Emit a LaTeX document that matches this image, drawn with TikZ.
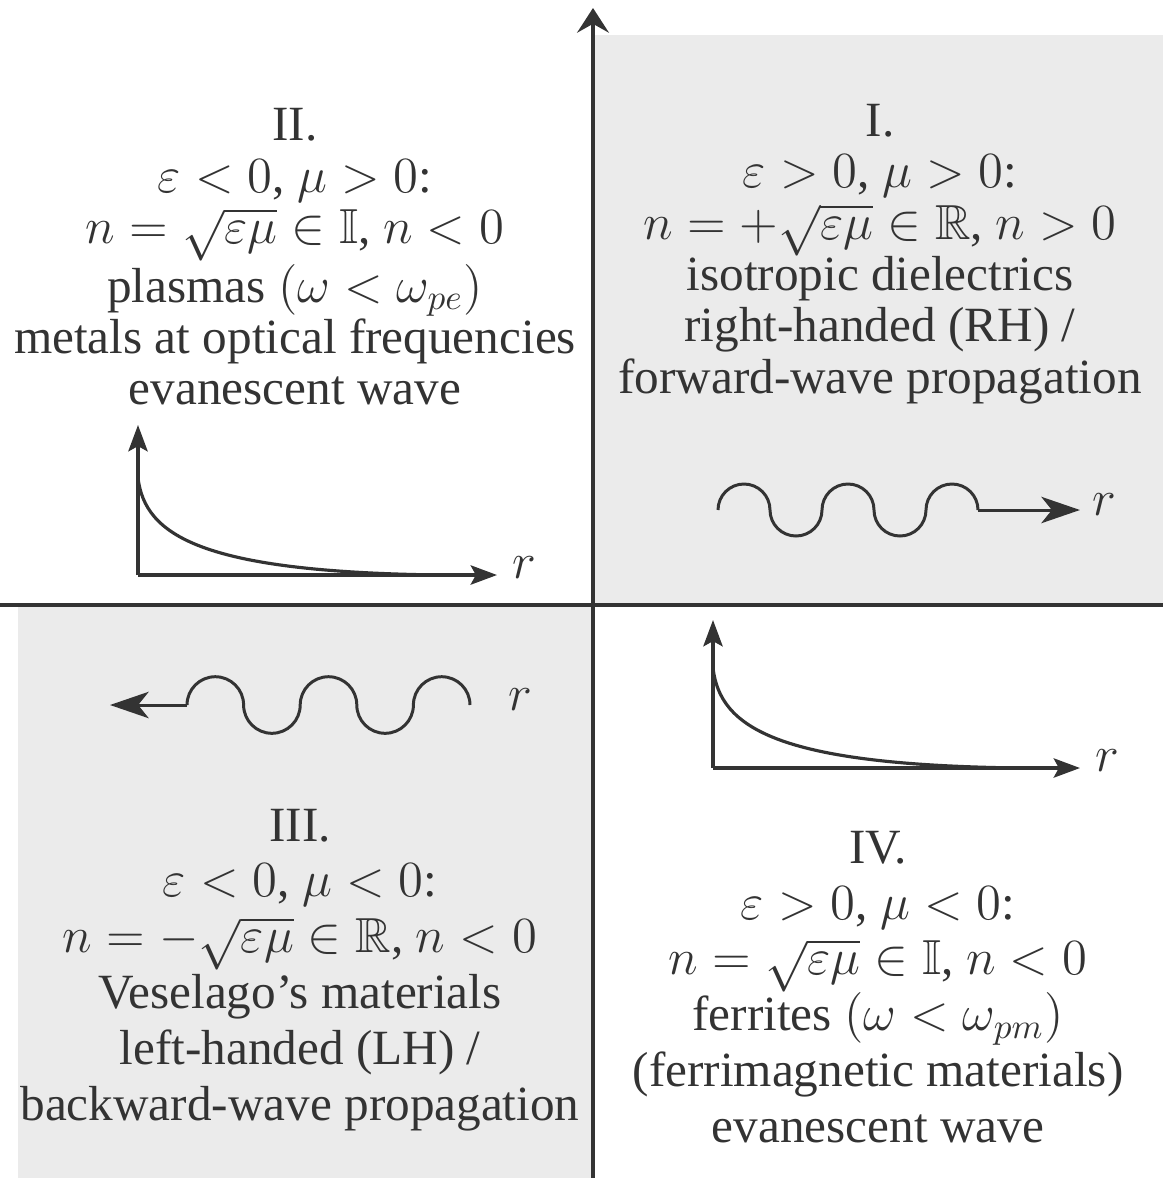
\documentclass[tikz,border=0pt]{standalone}
\usepackage{amsmath,amssymb}
\usepackage{fontspec}
\setmainfont{Liberation Serif}
\usepackage{tikz}
\usetikzlibrary{arrows.meta,positioning,calc}
\definecolor{qdshade}{HTML}{EBEBEB}
\definecolor{qdink}{HTML}{333333}
\tikzset{
qdtext/.style={align=center,text=qdink,inner sep=0pt,font=\fontsize{14}{14.6}\selectfont},
qdtextlow/.style={qdtext,font=\fontsize{14}{15.9}\selectfont},
qdlabel/.style={text=qdink,inner sep=0pt,font=\fontsize{14}{14}\selectfont},
qdaxis/.style={draw=qdink,line width=1.15pt},
qdmainarr/.style={qdaxis,-{Stealth[length=7pt,width=9pt,inset=2.5pt]}},
qdplotarr/.style={draw=qdink,line width=0.9pt,-{Stealth[length=7.5pt,width=5.5pt,inset=1.5pt]}},
qdcurve/.style={draw=qdink,line width=0.9pt},
qdwave/.style={draw=qdink,line width=0.85pt},
qdwavearr/.style={draw=qdink,line width=0.85pt,-{Stealth[length=11pt,width=7.5pt,inset=3pt]}}
}
\begin{document}
\begin{tikzpicture}[x=0.01cm,y=0.01cm]
\useasboundingbox (0,0) rectangle (1163,-1178);
% shaded quadrants
\fill[qdshade] (593,-35) rectangle (1163,-605);
\fill[qdshade] (18,-605) rectangle (593,-1178);
% main axes
\coordinate (hleft) at (0,-605);
\coordinate (hright) at (1163,-605);
\coordinate (vbottom) at (593,-1178);
\coordinate (vtop) at (593,-8);
\draw[qdaxis] (hleft)--(hright);
\draw[qdmainarr] (vbottom)--(vtop);
% quadrant texts
\node[qdtext] (quadII) at (295,-257) {II.\\
  $\varepsilon<0$, $\mu>0$:\\
  $n=\sqrt{\varepsilon\mu}\in\mathbb{I}$, $n<0$\\
  plasmas $(\omega<\omega_{pe})$\\
  metals at optical frequencies\\
  evanescent wave};
\node[qdtext] (quadI) at (880,-254) {I.\\
  $\varepsilon>0$, $\mu>0$:\\
  $n=+\sqrt{\varepsilon\mu}\in\mathbb{R}$, $n>0$\\
  isotropic dielectrics\\
  right-handed (RH) /\\
  forward-wave propagation};
\node[qdtextlow] (quadIII) at (300,-970) {III.\\
  $\varepsilon<0$, $\mu<0$:\\
  $n=-\sqrt{\varepsilon\mu}\in\mathbb{R}$, $n<0$\\
  Veselago's materials\\
  left-handed (LH) /\\
  backward-wave propagation};
\node[qdtextlow] (quadIV) at (878,-987) {IV.\\
  $\varepsilon>0$, $\mu<0$:\\
  $n=\sqrt{\varepsilon\mu}\in\mathbb{I}$, $n<0$\\
  ferrites $(\omega<\omega_{pm})$\\
  (ferrimagnetic materials)\\
  evanescent wave};
% decay plot, quadrant II
\coordinate (evIIo) at (138,-575);
\coordinate (evIIy) at (138,-425);
\coordinate (evIIx) at (497,-575);
\draw[qdplotarr] (evIIo)--(evIIy);
\draw[qdplotarr] (evIIo)--(evIIx);
\draw[qdcurve] (138,-478) .. controls (145,-535) and (200,-572) .. (440,-575);
\node[qdlabel,anchor=west] (rII) at (512,-568) {$r$};
% decay plot, quadrant IV
\coordinate (evIVo) at (713,-768);
\coordinate (evIVy) at (713,-620);
\coordinate (evIVx) at (1080,-768);
\draw[qdplotarr] (evIVo)--(evIVy);
\draw[qdplotarr] (evIVo)--(evIVx);
\draw[qdcurve] (713,-668) .. controls (720,-727) and (775,-765) .. (1020,-768);
\node[qdlabel,anchor=west] (rIV) at (1095,-761) {$r$};
% forward wave, quadrant I
\coordinate (fwstart) at (718,-510);
\coordinate (fwtip) at (1080,-510);
\draw[qdwave] (fwstart) arc(180:0:26) arc(180:360:26) arc(180:0:26)
  arc(180:360:26) arc(180:0:26) coordinate (fwend);
\draw[qdwavearr] (fwend)--(fwtip);
\node[qdlabel,anchor=west] (rI) at (1092,-505) {$r$};
% backward wave, quadrant III
\coordinate (bwstart) at (187,-705);
\coordinate (bwtip) at (110,-705);
\draw[qdwave] (bwstart) arc(180:0:28.3) arc(180:360:28.3) arc(180:0:28.3)
  arc(180:360:28.3) arc(180:0:28.3) coordinate (bwend);
\draw[qdwavearr] (bwstart)--(bwtip);
\node[qdlabel,anchor=west] (rIII) at (508,-700) {$r$};
\end{tikzpicture}
\end{document}
